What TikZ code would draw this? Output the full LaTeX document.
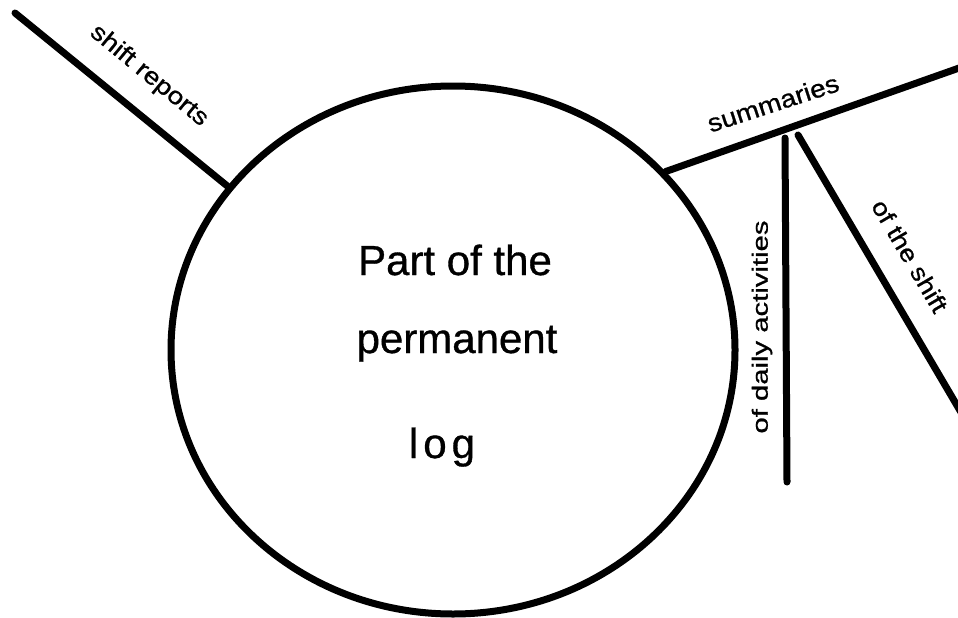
\documentclass[tikz,border=0pt]{standalone}
\usepackage{fontspec}
\setmainfont{Liberation Sans}
\newfontfamily\lblfont{Liberation Sans}[FakeBold=0.8]
\usetikzlibrary{shapes.geometric}
\begin{document}
\begin{tikzpicture}[x=1pt,y=-1pt,
  stroke/.style={line width=7pt,line cap=round},
  lbl/.style={inner sep=0pt},
  big/.style={inner sep=0pt,anchor=base,font=\lblfont\fontsize{42}{46}\selectfont}]
\useasboundingbox (0,0) rectangle (958,618);
% circle
\node[ellipse,draw,line width=7pt,minimum width=564pt,minimum height=528pt,inner sep=0pt] (circ) at (453,350) {};
% main text
\node[big] (t1) at (455,275) {Part of the};
\node[big] (t2) at (457,353) {permanent};
\node[big] (t3) at (442,458) {l\kern5pt o\kern5pt g};
% free ends
\coordinate (srend) at (15,13);
\coordinate (suend) at (962,67);
\coordinate (vtop) at (785,138);
\coordinate (vbot) at (787,482);
\coordinate (dtop) at (798,135);
\coordinate (dend) at (962,414);
% connectors
\draw[stroke] (circ.144.2) -- (srend);
\draw[stroke] (circ.40.8) -- (suend);
\draw[stroke] (vtop) -- (vbot);
\draw[stroke] (dtop) -- (dend);
% labels
\node[lbl,rotate=-39.5,font=\lblfont\fontsize{24}{26}\selectfont] (lsr) at (149,76) {\scalebox{1.16}[1]{shift reports}};
\node[lbl,rotate=18,font=\lblfont\fontsize{25}{27}\selectfont] (lsu) at (773,103) {\scalebox{1.12}[1]{summaries}};
\node[lbl,rotate=90,font=\lblfont\fontsize{22}{24}\selectfont] (lda) at (762,327) {\scalebox{1.33}[1]{of daily activities}};
\node[lbl,rotate=-59.6,font=\lblfont\fontsize{24}{26}\selectfont] (lsh) at (910,256) {\scalebox{1.14}[1]{of the shift}};
\end{tikzpicture}
\end{document}
